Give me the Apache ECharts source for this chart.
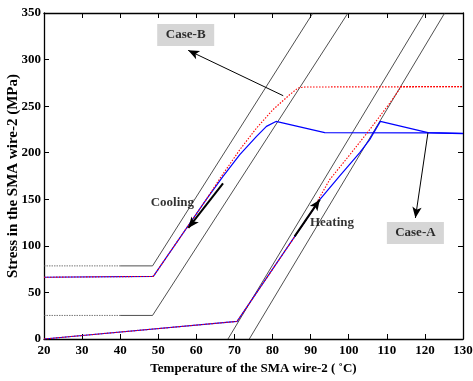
<!DOCTYPE html>
<html>
<head>
<meta charset="utf-8">
<script src="https://cdn.jsdelivr.net/npm/echarts@6/dist/echarts.min.js"></script>
<style>html,body{margin:0;padding:0;background:#fff;}#c{width:473px;height:381px;}</style>
</head>
<body>
<div id="c"></div>
<script>
// ---- data ----
const xTicks = [20, 30, 40, 50, 60, 70, 80, 90, 100, 110, 120, 130];
const yTicks = [0, 50, 100, 150, 200, 250, 300, 350];

// Case-A (blue, solid)
const caseACooling = [[20,66.3],[48.7,67.2],[62.8,151],[67.0,174.6],[71.4,197.9],[75.8,217.5],[78.4,228.3],[80.9,233.6],[93.7,221.5],[121,221.2],[130,220.6]];
const caseAHeating = [[20,0],[70.7,18.9],[92.4,149.6],[97.7,175.5],[102.9,200],[105.5,214],[108.3,233.6],[120.8,221.5],[130,220.7]];

// Case-B (red, dotted)
const caseBCooling = [[20,66.3],[48.7,67.2],[62.8,151],[66.3,173],[71.4,203.2],[75.8,226.5],[80.1,246.2],[84.5,262.3],[86.7,269.5],[88.5,270.6],[130,270.8]];
const caseBHeating = [[20,0],[70.7,18.9],[90.0,135],[95.0,171.1],[100.3,197.9],[105.5,224.7],[110.8,253.4],[113.8,271.0],[130,271.0]];

// transformation boundaries (black)
const boundCoolUpper = [[40,78.5],[48.5,78.5],[90.6,350]];
const boundCoolUpperFaint = [[20,78.5],[40,78.5]];
const boundCoolLower = [[40,25.3],[48.5,25.3],[99.8,350]];
const boundCoolLowerFaint = [[20,25.3],[40,25.3]];
const boundHeatLeft = [[68.3,0],[119.9,350]];
const boundHeatRight = [[73.9,0],[125.2,350]];

// annotations
const caseLabels = ['Case-B', 'Case-A'];
const caseLabelPos = [[57.2,326.4],[117.5,113.8]];
const processLabels = ['Cooling', 'Heating'];
const processLabelPos = [[53.7,146.3],[95.6,124.5]];
const arrowCaseB = [[82.8,261.2],[57.85,309.9]];
const arrowCaseA = [[120.8,221.5],[117.5,129.9]];
const arrowCooling = [[67.0,167],[57.9,119.2]];
const arrowHeating = [[85.8,110.2],[92.4,149.6]];

// ---- chart ----
const FONT = 'Liberation Serif';
const chart = echarts.init(document.getElementById('c'), null, {renderer: 'canvas'});

function lineSeries(data, color, width, type, z) {
  return {
    type: 'line', data: data, symbol: 'none', showSymbol: false, silent: true,
    lineStyle: {color: color, width: width, type: type || 'solid'}, z: z || 2
  };
}
function arrow(pts, width) {
  return [{coord: pts[0], lineStyle: {width: width}}, {coord: pts[1]}];
}

const axisTxt = {fontFamily: FONT, fontWeight: 'bold', fontSize: 13, color: '#000'};

const option = {
  animation: false,
  backgroundColor: '#fff',
  grid: {left: 44, right: 10, top: 13, bottom: 42, containLabel: false, outerBoundsMode: 'none'},
  xAxis: [{
    type: 'value', min: xTicks[0], max: xTicks[xTicks.length-1], interval: 10,
    name: 'Temperature of the SMA wire-2 ( \u02DAC)', nameLocation: 'middle', nameGap: 22,
    nameTextStyle: axisTxt,
    axisLine: {show: true, onZero: false, lineStyle: {color: '#000', width: 1.3}},
    axisTick: {inside: true, length: 5, lineStyle: {color: '#000', width: 1}},
    axisLabel: Object.assign({margin: 5}, axisTxt),
    splitLine: {show: false}
  }, {
    type: 'value', position: 'top', min: xTicks[0], max: xTicks[xTicks.length-1], interval: 10,
    axisLine: {show: true, onZero: false, lineStyle: {color: '#000', width: 1.3}},
    axisTick: {inside: true, length: 5, lineStyle: {color: '#000', width: 1}},
    axisLabel: {show: false}, splitLine: {show: false}
  }],
  yAxis: [{
    type: 'value', min: yTicks[0], max: yTicks[yTicks.length-1], interval: 50,
    name: 'Stress in the SMA wire-2 (MPa)', nameLocation: 'middle', nameGap: 23,
    nameMoveOverlap: false,
    nameTextStyle: {fontFamily: FONT, fontWeight: 'bold', fontSize: 15, color: '#000'},
    axisLine: {show: true, onZero: false, lineStyle: {color: '#000', width: 1.3}},
    axisTick: {inside: true, length: 5, lineStyle: {color: '#000', width: 1}},
    axisLabel: Object.assign({margin: 3}, axisTxt),
    splitLine: {show: false}
  }, {
    type: 'value', position: 'right', min: yTicks[0], max: yTicks[yTicks.length-1], interval: 50,
    axisLine: {show: true, onZero: false, lineStyle: {color: '#000', width: 1.3}},
    axisTick: {inside: true, length: 5, lineStyle: {color: '#000', width: 1}},
    axisLabel: {show: false}, splitLine: {show: false}
  }],
  series: [
    lineSeries(boundCoolUpper, '#222', 0.8),
    lineSeries(boundCoolUpperFaint, '#555', 0.8, [1.5, 1]),
    lineSeries(boundCoolLower, '#222', 0.8),
    lineSeries(boundCoolLowerFaint, '#555', 0.8, [1.5, 1]),
    lineSeries(boundHeatLeft, '#222', 0.8),
    lineSeries(boundHeatRight, '#222', 0.8),
    lineSeries(caseACooling, '#0000ff', 1.2, 'solid', 3),
    lineSeries(caseAHeating, '#0000ff', 1.2, 'solid', 3),
    lineSeries(caseBCooling, '#ff0000', 1.1, [1.5, 1.5], 4),
    lineSeries(caseBHeating, '#ff0000', 1.1, [1.5, 1.5], 4),
    {
      type: 'scatter', silent: true, z: 5,
      data: caseLabelPos.map((p, i) => ({value: p, name: caseLabels[i]})),
      symbol: 'rect', symbolSize: [57, 22],
      itemStyle: {color: '#cccccc'},
      label: {show: true, position: 'inside', formatter: '{b}', fontFamily: FONT, fontWeight: 'bold', fontSize: 13, color: '#000'}
    },
    {
      type: 'scatter', silent: true, z: 5,
      data: processLabelPos.map((p, i) => ({value: p, name: processLabels[i]})),
      symbolSize: 0,
      label: {show: true, position: 'inside', formatter: '{b}', fontFamily: FONT, fontWeight: 'bold', fontSize: 13, color: '#000'}
    },
    {
      type: 'line', data: [], silent: true, z: 6,
      markLine: {
        silent: true, animation: false,
        symbol: ['none', 'arrow'], symbolSize: [7, 11],
        label: {show: false},
        lineStyle: {color: '#000', type: 'solid', width: 1},
        data: [arrow(arrowCaseB, 1), arrow(arrowCaseA, 1), arrow(arrowCooling, 2), arrow(arrowHeating, 2)]
      }
    }
  ]
};
chart.setOption(option);
</script>
</body>
</html>
